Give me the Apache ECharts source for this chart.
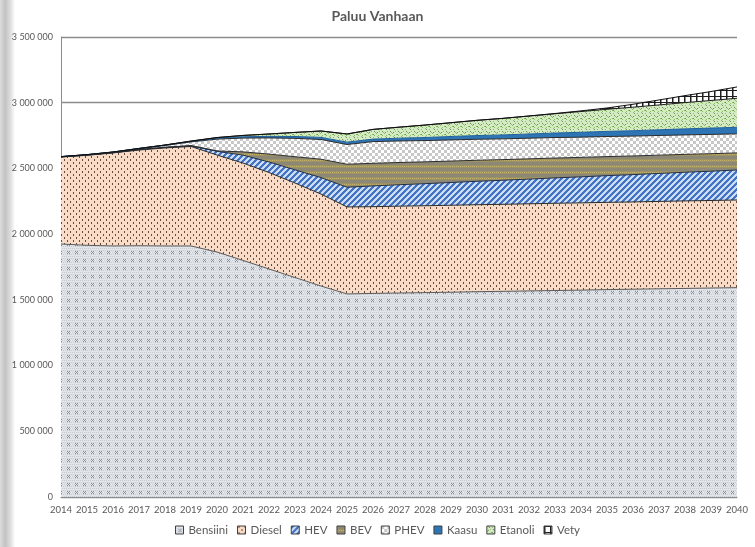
<!DOCTYPE html>
<html>
<head>
<meta charset="utf-8">
<script src="https://cdn.jsdelivr.net/npm/echarts@6/dist/echarts.min.js"></script>
<style>
  html, body { margin: 0; padding: 0; background: #ffffff; }
  #chart { width: 755px; height: 547px; }
</style>
</head>
<body>
<div id="chart"></div>
<script>
// Vehicle fleet by power source, scenario "Paluu Vanhaan", 2014-2040
const years = ['2014','2015','2016','2017','2018','2019','2020','2021','2022','2023','2024','2025','2026','2027','2028','2029','2030','2031','2032','2033','2034','2035','2036','2037','2038','2039','2040'];

const bensiini = [1925000,1915000,1910000,1912000,1910000,1910000,1864000,1800000,1735000,1670000,1605000,1545000,1549000,1552000,1555000,1558000,1562000,1565000,1568000,1571000,1574000,1578000,1581000,1584000,1587000,1590000,1593000];
const diesel   = [662000,685000,708000,728000,746000,757000,738000,741000,734000,719000,700000,662000,660000,661000,661000,662000,662000,662000,663000,664000,664000,664000,664000,665000,666000,666000,667000];
const hev      = [1000,2000,2000,3000,4000,5000,28000,60000,80000,100000,125000,150000,158000,163000,168000,173000,178000,183000,188000,193000,198000,203000,208000,213000,218000,223000,228000];
const bev      = [0,0,0,1000,1000,2000,3000,25000,60000,100000,140000,175000,172000,169000,166000,163000,160000,157000,154000,151000,148000,145000,142000,139000,136000,133000,130000];
const phev     = [1000,2000,3000,6000,14000,28000,90000,105000,123000,140000,150000,150000,165000,164000,162000,161000,160000,158000,157000,156000,154000,153000,151000,150000,148000,147000,145000];
const kaasu    = [1000,1000,2000,2000,3000,4000,8000,10000,12000,14000,16000,18000,19000,21000,23000,26000,28000,30000,32000,34000,37000,39000,41000,43000,46000,48000,50000];
const etanoli  = [0,0,0,0,0,2000,4000,10000,18000,31000,49000,62000,74000,84000,95000,105000,116000,126000,137000,147000,158000,168000,179000,189000,200000,210000,221000];
const vety     = [0,0,0,0,0,0,0,0,0,0,0,0,0,0,0,0,0,0,0,2000,5000,10000,22000,38000,53000,68000,86000];

const seriesNames = ['Bensiini','Diesel','HEV','BEV','PHEV','Kaasu','Etanoli','Vety'];
const yTicks = { min: 0, max: 3500000, interval: 500000 };

// ---- fill patterns drawn on small tiles ----
function tile(w, h, draw) {
  const c = document.createElement('canvas');
  c.width = w; c.height = h;
  const g = c.getContext('2d');
  draw(g, w, h);
  return { image: c, repeat: 'repeat' };
}
function px(g, color, pts) {
  g.fillStyle = color;
  pts.forEach(p => g.fillRect(p[0], p[1], p[2] || 1, p[3] || 1));
}

const patBensiini = tile(8, 8, (g, w, h) => {
  g.fillStyle = '#e2e5ea'; g.fillRect(0, 0, w, h);
  const fine = [];
  for (let y = 0; y < h; y += 2) for (let x = (y % 4 === 0 ? 0 : 1); x < w; x += 2) fine.push([x, y]);
  px(g, '#c6cbd2', fine);
  px(g, '#868c96', [[3,3],[5,3],[4,4],[3,5],[5,5]]);
});
const patDiesel = tile(6, 6, (g, w, h) => {
  g.fillStyle = '#f8dcc8'; g.fillRect(0, 0, w, h);
  px(g, '#6b4a3a', [[1,0,1,2],[4,3,1,2]]);
});
const patHev = tile(6, 6, (g, w, h) => {
  for (let y = 0; y < h; y++) for (let x = 0; x < w; x++) {
    g.fillStyle = ((x + y) % 6) < 3 ? '#4472c4' : '#c9def4';
    g.fillRect(x, y, 1, 1);
  }
});
const patBev = tile(4, 6, (g, w, h) => {
  g.fillStyle = '#8c8875'; g.fillRect(0, 0, w, h);
  g.fillStyle = '#9c9262'; g.fillRect(0, 3, w, 3);
  px(g, '#c4b36e', [[0,4],[2,4]]);
});
const patPhev = tile(6, 6, (g, w, h) => {
  g.fillStyle = '#ffffff'; g.fillRect(0, 0, w, h);
  g.fillStyle = '#c8c8c8'; g.fillRect(0, 0, 3, 3); g.fillRect(3, 3, 3, 3);
});
const patEtanoli = tile(8, 8, (g, w, h) => {
  g.fillStyle = '#d6eac6'; g.fillRect(0, 0, w, h);
  px(g, '#8cbd69', [[1,0],[5,1],[3,3],[7,4],[0,5],[4,6],[6,7],[2,7]]);
  px(g, '#5f9a45', [[2,1],[6,3],[1,4],[5,6]]);
});
const patVety = tile(6, 6, (g, w, h) => {
  g.fillStyle = '#ffffff'; g.fillRect(0, 0, w, h);
  g.fillStyle = '#1e1e1e'; g.fillRect(0, 0, 1.5, h); g.fillRect(0, 0, w, 1);
});

const fills = [patBensiini, patDiesel, patHev, patBev, patPhev, '#2e75b6', patEtanoli, patVety];
const lineColors = ['#5a5a5a','#2b2b2b','#1f2d4a','#2b2b2b','#2b2b2b','#1f5f9f','#1e1e1e','#111111'];
const values = [bensiini, diesel, hev, bev, phev, kaasu, etanoli, vety];

const fmt = v => String(v).replace(/\B(?=(\d{3})+(?!\d))/g, ' ');

const chart = echarts.init(document.getElementById('chart'), null, { renderer: 'canvas' });
chart.setOption({
  animation: false,
  backgroundColor: '#ffffff',
  title: {
    text: 'Paluu Vanhaan',
    left: 'center', top: 4,
    textStyle: { fontFamily: 'Lato', fontSize: 14, fontWeight: 'bold', color: '#595959' }
  },
  graphic: [{
    type: 'rect', left: 0, top: 0, z: -1,
    shape: { width: 15, height: 547 },
    style: {
      fill: new echarts.graphic.LinearGradient(0, 0, 1, 0, [
        { offset: 0, color: '#dcdcdc' },
        { offset: 0.35, color: '#c3c3c3' },
        { offset: 0.7, color: '#dedede' },
        { offset: 1, color: '#ffffff' }
      ])
    }
  }],
  legend: {
    bottom: 6, left: 'center',
    icon: 'rect', itemWidth: 8, itemHeight: 8, itemGap: 9,
    textStyle: { fontFamily: 'Lato', fontSize: 11.5, color: '#595959' },
    itemStyle: { borderColor: '#404040', borderWidth: 1 },
    data: seriesNames
  },
  grid: { left: 61, right: 18, top: 37, bottom: 50 },
  xAxis: {
    type: 'category', data: years, boundaryGap: false,
    axisLine: { lineStyle: { color: '#8c8c8c', width: 1 } },
    axisTick: { show: false },
    axisLabel: { interval: 0, margin: 8, fontFamily: 'Lato', fontSize: 9.5, color: '#595959' }
  },
  yAxis: {
    type: 'value', min: yTicks.min, max: yTicks.max, interval: yTicks.interval,
    axisLine: { show: true, lineStyle: { color: '#8c8c8c', width: 1 } },
    axisTick: { show: false },
    axisLabel: { margin: 8, fontFamily: 'Lato', fontSize: 9, color: '#595959', formatter: fmt },
    splitLine: { lineStyle: { color: '#8c8c8c', width: 1.3 } }
  },
  series: seriesNames.map((name, i) => ({
    name, type: 'line', stack: 'fleet', data: values[i],
    symbol: 'none', smooth: false,
    lineStyle: { color: lineColors[i], width: 1 },
    itemStyle: { color: fills[i] },
    areaStyle: { color: fills[i], opacity: 1 },
    emphasis: { disabled: true }
  }))
});
</script>
</body>
</html>
